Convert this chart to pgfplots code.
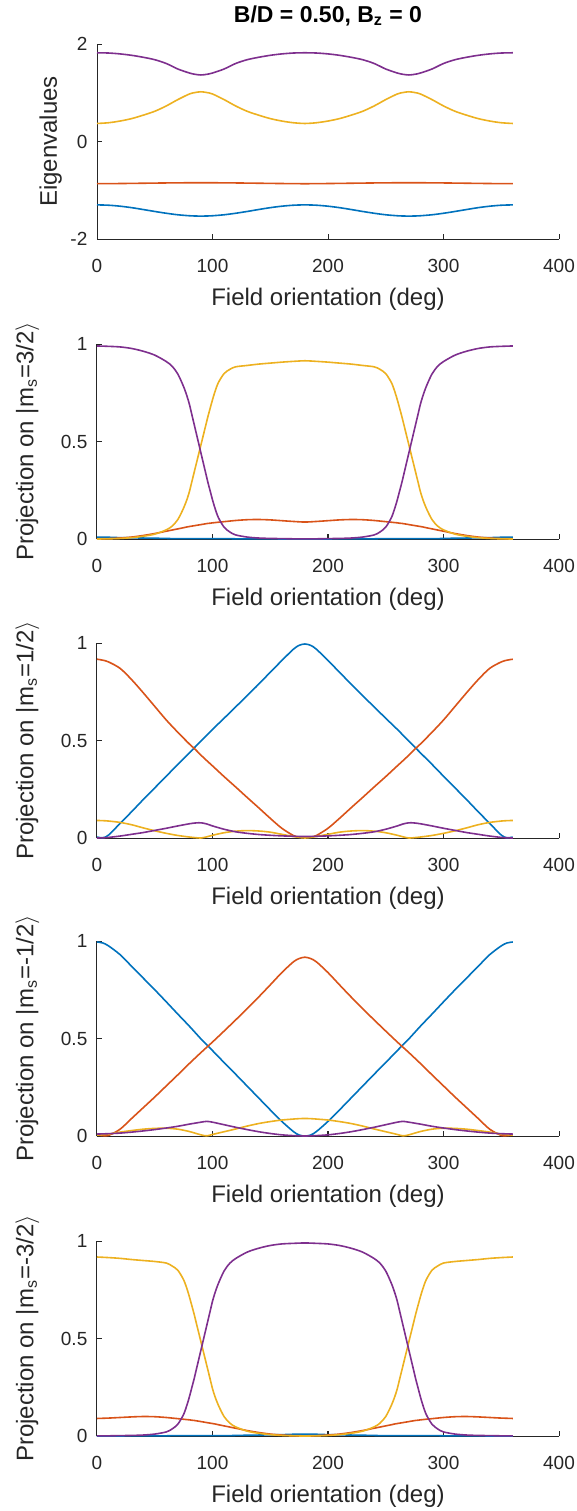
\documentclass[border=0pt]{standalone}
\usepackage{fontspec}
\setmainfont{Liberation Sans}
\usepackage{pgfplots}
\pgfplotsset{compat=1.18}
\usepackage{pgfplotstable}
\definecolor{mblue}{rgb}{0,0.447,0.741}
\definecolor{morange}{rgb}{0.85,0.325,0.098}
\definecolor{myellow}{rgb}{0.929,0.694,0.125}
\definecolor{mpurple}{rgb}{0.494,0.184,0.556}
\definecolor{axgray}{rgb}{0.15,0.15,0.15}

\pgfplotstableread{
x b o y p
0 -1.300 -0.865 0.370 1.820
10 -1.307 -0.864 0.385 1.815
20 -1.327 -0.862 0.420 1.797
30 -1.357 -0.859 0.470 1.768
40 -1.395 -0.856 0.540 1.728
50 -1.435 -0.853 0.620 1.678
60 -1.472 -0.850 0.730 1.600
70 -1.503 -0.848 0.860 1.487
80 -1.523 -0.846 0.975 1.405
85 -1.528 -0.845 1.005 1.378
90 -1.530 -0.845 1.020 1.365
95 -1.528 -0.845 1.005 1.378
100 -1.523 -0.846 0.975 1.405
110 -1.503 -0.848 0.860 1.487
120 -1.472 -0.850 0.730 1.600
130 -1.435 -0.853 0.620 1.678
140 -1.395 -0.856 0.540 1.728
150 -1.357 -0.859 0.470 1.768
160 -1.327 -0.862 0.420 1.797
170 -1.307 -0.864 0.385 1.815
180 -1.300 -0.866 0.370 1.820
190 -1.307 -0.864 0.385 1.815
200 -1.327 -0.862 0.420 1.797
210 -1.357 -0.859 0.470 1.768
220 -1.395 -0.856 0.540 1.728
230 -1.435 -0.853 0.620 1.678
240 -1.472 -0.850 0.730 1.600
250 -1.503 -0.848 0.860 1.487
260 -1.523 -0.846 0.975 1.405
265 -1.528 -0.845 1.005 1.378
270 -1.530 -0.845 1.020 1.365
275 -1.528 -0.845 1.005 1.378
280 -1.523 -0.846 0.975 1.405
290 -1.503 -0.848 0.860 1.487
300 -1.472 -0.850 0.730 1.600
310 -1.435 -0.853 0.620 1.678
320 -1.395 -0.856 0.540 1.728
330 -1.357 -0.859 0.470 1.768
340 -1.327 -0.862 0.420 1.797
350 -1.307 -0.864 0.385 1.815
360 -1.300 -0.865 0.370 1.820
}\tabE

\pgfplotstableread{
x b o y p
0 0.010 0.001 0.000 0.990
10 0.009 0.002 0.001 0.988
20 0.007 0.005 0.003 0.985
30 0.006 0.010 0.007 0.977
40 0.005 0.018 0.014 0.963
50 0.004 0.028 0.025 0.943
60 0.003 0.040 0.047 0.910
65 0.002 0.046 0.066 0.886
70 0.002 0.052 0.100 0.846
75 0.002 0.058 0.159 0.781
78 0.002 0.062 0.205 0.731
80 0.002 0.064 0.243 0.691
82 0.002 0.066 0.291 0.641
84 0.002 0.068 0.339 0.591
86 0.002 0.070 0.387 0.541
88 0.002 0.072 0.435 0.491
90 0.002 0.074 0.483 0.441
92 0.002 0.076 0.531 0.391
94 0.002 0.078 0.579 0.341
96 0.002 0.080 0.627 0.291
98 0.002 0.081 0.671 0.246
100 0.002 0.083 0.714 0.201
102 0.002 0.084 0.753 0.161
105 0.002 0.086 0.801 0.111
110 0.002 0.089 0.848 0.061
115 0.002 0.092 0.870 0.036
120 0.001 0.095 0.883 0.021
130 0.001 0.099 0.890 0.010
140 0.001 0.100 0.897 0.005
150 0.001 0.098 0.902 0.003
160 0.000 0.094 0.907 0.002
170 0.000 0.090 0.911 0.001
180 0.000 0.087 0.914 0.001
190 0.000 0.090 0.911 0.001
200 0.000 0.094 0.907 0.002
210 0.001 0.098 0.902 0.003
220 0.001 0.100 0.897 0.005
230 0.001 0.099 0.890 0.010
240 0.001 0.095 0.883 0.021
245 0.002 0.092 0.870 0.036
250 0.002 0.089 0.848 0.061
255 0.002 0.086 0.801 0.111
258 0.002 0.084 0.753 0.161
260 0.002 0.083 0.714 0.201
262 0.002 0.081 0.671 0.246
264 0.002 0.080 0.627 0.291
266 0.002 0.078 0.579 0.341
268 0.002 0.076 0.531 0.391
270 0.002 0.074 0.483 0.441
272 0.002 0.072 0.435 0.491
274 0.002 0.070 0.387 0.541
276 0.002 0.068 0.339 0.591
278 0.002 0.066 0.291 0.641
280 0.002 0.064 0.243 0.691
282 0.002 0.062 0.205 0.731
285 0.002 0.058 0.159 0.781
290 0.002 0.052 0.100 0.846
295 0.002 0.046 0.066 0.886
300 0.003 0.040 0.047 0.910
310 0.004 0.028 0.025 0.943
320 0.005 0.018 0.014 0.963
330 0.006 0.010 0.007 0.977
340 0.007 0.005 0.003 0.985
350 0.009 0.002 0.001 0.988
360 0.010 0.001 0.000 0.990
}\tabA

\pgfplotstableread{
x b o y p
0 0.005 0.917 0.090 0.000
5 0.001 0.912 0.089 0.001
10 0.015 0.903 0.087 0.003
20 0.075 0.870 0.080 0.010
30 0.135 0.812 0.068 0.019
40 0.197 0.745 0.052 0.028
50 0.257 0.675 0.037 0.039
60 0.317 0.605 0.024 0.050
70 0.378 0.542 0.013 0.062
80 0.437 0.482 0.005 0.073
85 0.467 0.455 0.002 0.077
90 0.497 0.425 0.000 0.078
95 0.527 0.397 0.006 0.072
100 0.557 0.370 0.014 0.062
110 0.614 0.315 0.027 0.045
120 0.672 0.262 0.035 0.032
130 0.730 0.208 0.038 0.024
140 0.789 0.155 0.036 0.018
150 0.850 0.101 0.030 0.014
160 0.910 0.050 0.019 0.011
170 0.968 0.013 0.008 0.009
175 0.988 0.005 0.003 0.008
180 0.995 0.005 0.000 0.008
185 0.988 0.005 0.003 0.008
190 0.968 0.013 0.008 0.009
200 0.910 0.050 0.019 0.011
210 0.850 0.101 0.030 0.014
220 0.789 0.155 0.036 0.018
230 0.730 0.208 0.038 0.024
240 0.672 0.262 0.035 0.032
250 0.614 0.315 0.027 0.045
260 0.557 0.370 0.014 0.062
265 0.527 0.397 0.006 0.072
270 0.497 0.425 0.000 0.078
275 0.467 0.455 0.002 0.077
280 0.437 0.482 0.005 0.073
290 0.378 0.542 0.013 0.062
300 0.317 0.605 0.024 0.050
310 0.257 0.675 0.037 0.039
320 0.197 0.745 0.052 0.028
330 0.135 0.812 0.068 0.019
340 0.075 0.870 0.080 0.010
350 0.015 0.903 0.087 0.003
355 0.001 0.912 0.089 0.001
360 0.005 0.917 0.090 0.000
}\tabB

\pgfplotstableread{
x b o y p
0 0.995 0.005 0.005 0.010
5 0.990 0.002 0.007 0.011
10 0.975 0.003 0.010 0.012
20 0.930 0.035 0.020 0.015
30 0.870 0.090 0.028 0.020
40 0.810 0.145 0.035 0.026
50 0.750 0.200 0.039 0.033
60 0.688 0.257 0.040 0.041
70 0.625 0.314 0.035 0.050
80 0.563 0.372 0.023 0.061
90 0.498 0.428 0.006 0.071
95 0.468 0.455 0.001 0.075
100 0.438 0.482 0.008 0.071
110 0.377 0.538 0.022 0.058
120 0.317 0.595 0.036 0.045
130 0.256 0.653 0.051 0.033
140 0.195 0.713 0.064 0.022
150 0.134 0.775 0.074 0.013
160 0.075 0.838 0.082 0.006
170 0.023 0.893 0.087 0.002
175 0.005 0.910 0.089 0.001
180 0.000 0.917 0.090 0.000
185 0.005 0.910 0.089 0.001
190 0.023 0.893 0.087 0.002
200 0.075 0.838 0.082 0.006
210 0.134 0.775 0.074 0.013
220 0.195 0.713 0.064 0.022
230 0.256 0.653 0.051 0.033
240 0.317 0.595 0.036 0.045
250 0.377 0.538 0.022 0.058
260 0.438 0.482 0.008 0.071
265 0.468 0.455 0.001 0.075
270 0.498 0.428 0.006 0.071
280 0.563 0.372 0.023 0.061
290 0.625 0.314 0.035 0.050
300 0.688 0.257 0.040 0.041
310 0.750 0.200 0.039 0.033
320 0.810 0.145 0.035 0.026
330 0.870 0.090 0.028 0.020
340 0.930 0.035 0.020 0.015
350 0.975 0.003 0.010 0.012
355 0.990 0.002 0.007 0.011
360 0.995 0.005 0.005 0.010
}\tabC

\pgfplotstableread{
x b o y p
0 0.000 0.090 0.918 0.001
10 0.000 0.092 0.915 0.001
20 0.000 0.095 0.911 0.002
30 0.001 0.098 0.905 0.003
40 0.001 0.100 0.900 0.005
50 0.001 0.099 0.895 0.010
60 0.001 0.095 0.887 0.021
65 0.002 0.092 0.872 0.036
70 0.002 0.089 0.850 0.061
75 0.002 0.086 0.801 0.111
78 0.002 0.084 0.753 0.161
80 0.002 0.083 0.714 0.201
82 0.002 0.081 0.671 0.246
84 0.002 0.080 0.627 0.291
86 0.002 0.078 0.579 0.341
88 0.002 0.076 0.531 0.391
90 0.002 0.074 0.483 0.441
92 0.002 0.072 0.435 0.491
94 0.002 0.070 0.387 0.541
96 0.002 0.068 0.339 0.591
98 0.002 0.066 0.291 0.641
100 0.002 0.064 0.243 0.691
102 0.002 0.062 0.205 0.731
105 0.002 0.058 0.159 0.781
110 0.002 0.052 0.100 0.846
115 0.002 0.046 0.066 0.886
120 0.003 0.040 0.047 0.910
130 0.004 0.028 0.025 0.943
140 0.005 0.018 0.014 0.963
150 0.006 0.010 0.007 0.977
160 0.007 0.005 0.003 0.985
170 0.009 0.002 0.001 0.988
180 0.010 0.001 0.000 0.990
190 0.009 0.002 0.001 0.988
200 0.007 0.005 0.003 0.985
210 0.006 0.010 0.007 0.977
220 0.005 0.018 0.014 0.963
230 0.004 0.028 0.025 0.943
240 0.003 0.040 0.047 0.910
245 0.002 0.046 0.066 0.886
250 0.002 0.052 0.100 0.846
255 0.002 0.058 0.159 0.781
258 0.002 0.062 0.205 0.731
260 0.002 0.064 0.243 0.691
262 0.002 0.066 0.291 0.641
264 0.002 0.068 0.339 0.591
266 0.002 0.070 0.387 0.541
268 0.002 0.072 0.435 0.491
270 0.002 0.074 0.483 0.441
272 0.002 0.076 0.531 0.391
274 0.002 0.078 0.579 0.341
276 0.002 0.080 0.627 0.291
278 0.002 0.081 0.671 0.246
280 0.002 0.083 0.714 0.201
282 0.002 0.084 0.753 0.161
285 0.002 0.086 0.801 0.111
290 0.002 0.089 0.850 0.061
295 0.002 0.092 0.872 0.036
300 0.001 0.095 0.887 0.021
310 0.001 0.099 0.895 0.010
320 0.001 0.100 0.900 0.005
330 0.001 0.098 0.905 0.003
340 0.000 0.095 0.911 0.002
350 0.000 0.092 0.915 0.001
360 0.000 0.090 0.918 0.001
}\tabD

\pgfplotsset{
  mstyle/.style={
    scale only axis, width=231pt, height=97.5pt,
    axis lines=left,
    axis line style={-, draw=axgray, line width=0.5pt},
    xmin=0, xmax=400,
    xtick={0,100,200,300,400}, xticklabels={0,100,200,300,400},
    tick align=inside, major tick length=2.3pt,
    tick style={draw=axgray, line width=0.5pt},
    every tick label/.append style={font=\fontsize{9.5}{11}\selectfont, text=axgray},
    xticklabel style={anchor=base, yshift=-16.7pt},
    yticklabel style={anchor=east, xshift=-1.3pt},
    xlabel={Field orientation (deg)},
    xlabel style={at={(axis description cs:0.5,0)}, anchor=base, yshift=-33.3pt,
      font=\fontsize{12}{14}\selectfont, text=axgray},
    ylabel style={font=\fontsize{12}{14}\selectfont, text=axgray, anchor=base},
    clip=false,
    every axis plot/.append style={line width=0.8pt, smooth},
  },
  proj/.style={
    mstyle, ymin=0, ymax=1, ytick={0,0.5,1}, yticklabels={0,0.5,1},
    ylabel style={at={(axis description cs:-0.1377,0.5)}},
  },
}

\begin{document}
\begin{tikzpicture}
\useasboundingbox (-48.5pt,-636pt) rectangle (240pt,119.5pt);

\begin{axis}[mstyle, at={(0pt,0pt)}, anchor=south west,
  ymin=-2, ymax=2, ytick={-2,0,2}, yticklabels={-2,0,2},
  ylabel={Eigenvalues},
  ylabel style={at={(axis description cs:-0.0866,0.5)}},
  title={B/D = 0.50, B\textsubscript{z} = 0},
  every axis title shift=0pt,
  title style={at={(axis description cs:0.5,1)}, anchor=base, yshift=11pt,
    font=\bfseries\fontsize{11.5}{13}\selectfont}]
\addplot[mblue] table[x=x,y=b]{\tabE};
\addplot[morange] table[x=x,y=o]{\tabE};
\addplot[myellow] table[x=x,y=y]{\tabE};
\addplot[mpurple] table[x=x,y=p]{\tabE};
\end{axis}

\begin{axis}[proj, at={(0pt,-150pt)}, anchor=south west,
  ylabel={Projection on |m\textsubscript{s}=3/2$\rangle$}]
\addplot[mblue] table[x=x,y=b]{\tabA};
\addplot[morange] table[x=x,y=o]{\tabA};
\addplot[myellow] table[x=x,y=y]{\tabA};
\addplot[mpurple] table[x=x,y=p]{\tabA};
\end{axis}

\begin{axis}[proj, at={(0pt,-299.5pt)}, anchor=south west,
  ylabel={Projection on |m\textsubscript{s}=1/2$\rangle$}]
\addplot[mblue] table[x=x,y=b]{\tabB};
\addplot[morange] table[x=x,y=o]{\tabB};
\addplot[myellow] table[x=x,y=y]{\tabB};
\addplot[mpurple] table[x=x,y=p]{\tabB};
\end{axis}

\begin{axis}[proj, at={(0pt,-448.5pt)}, anchor=south west,
  ylabel={Projection on |m\textsubscript{s}=-1/2$\rangle$}]
\addplot[mblue] table[x=x,y=b]{\tabC};
\addplot[morange] table[x=x,y=o]{\tabC};
\addplot[myellow] table[x=x,y=y]{\tabC};
\addplot[mpurple] table[x=x,y=p]{\tabC};
\end{axis}

\begin{axis}[proj, at={(0pt,-598.5pt)}, anchor=south west,
  ylabel={Projection on |m\textsubscript{s}=-3/2$\rangle$}]
\addplot[mblue] table[x=x,y=b]{\tabD};
\addplot[morange] table[x=x,y=o]{\tabD};
\addplot[myellow] table[x=x,y=y]{\tabD};
\addplot[mpurple] table[x=x,y=p]{\tabD};
\end{axis}
\end{tikzpicture}
\end{document}
